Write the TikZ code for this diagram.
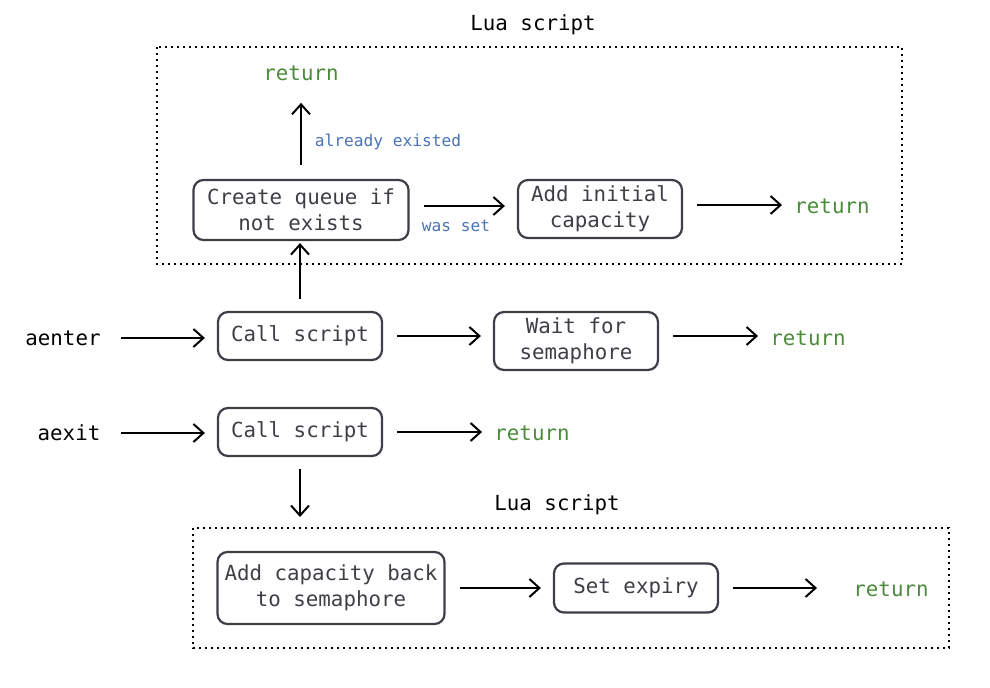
\documentclass[tikz,border=0pt]{standalone}
\usepackage{fontspec}
\setmainfont{DejaVu Sans Mono}
\usetikzlibrary{arrows.meta}

\definecolor{retgreen}{RGB}{75,139,59}
\definecolor{condblue}{RGB}{74,115,181}
\definecolor{boxgray}{RGB}{62,62,70}

\tikzset{
    box/.style={draw=boxgray, line width=1.1pt, rounded corners=5pt, align=center,
        text=boxgray, inner sep=2pt},
    word/.style={inner sep=0pt},
    ret/.style={word, text=retgreen},
    cond/.style={word, text=condblue, font=\fontsize{8.1}{10}\selectfont},
    flow/.style={->, line width=1pt, shorten <=7pt, shorten >=6pt},
    luabox/.style={dotted, line width=1pt}
}

\begin{document}
\begin{tikzpicture}[x=0.5pt, y=-0.5pt, >={Straight Barb[length=5pt,width=9pt]},
        font=\fontsize{10.4}{13}\selectfont]
    \useasboundingbox (0,0) rectangle (990,688);

    % upper Lua script
    \draw[luabox] (157,47) rectangle (902,264);
    \node[word] (lua1) at (533,25) {Lua script};
    \node[ret] (ret1) at (301,73) {return};
    \node[box, minimum width=107.5pt, minimum height=30pt] (cq) at (301,210) {Create queue if\\not exists};
    \node[box, minimum width=82pt, minimum height=29pt] (ai) at (600,209) {Add initial\\capacity};
    \node[ret] (ret2) at (832,206) {return};
    \node[cond] (lbl1) at (388,142) {already existed};
    \node[cond] (lbl2) at (456,226) {was set};

    % aenter
    \node[word] (aenter) at (63,338) {aenter};
    \node[box, minimum width=82pt, minimum height=24pt] (call1) at (300,336) {Call script};
    \node[box, minimum width=82pt, minimum height=29pt] (wait) at (576,341) {Wait for\\semaphore};
    \node[ret] (ret3) at (808,338) {return};

    % aexit
    \node[word] (aexit) at (69,433) {aexit};
    \node[box, minimum width=82pt, minimum height=24pt] (call2) at (300,432) {Call script};
    \node[ret] (ret4) at (532,433) {return};

    % lower Lua script
    \draw[luabox] (193,528) rectangle (949,648);
    \coordinate (lowtop) at (300,528);
    \node[word] (lua2) at (557,505) {Lua script};
    \node[box, minimum width=113.5pt, minimum height=36pt] (back) at (331,588) {Add capacity back\\to semaphore};
    \node[box, minimum width=82pt, minimum height=24.5pt] (exp) at (636,588) {Set expiry};
    \node[ret] (ret5) at (891,589) {return};

    % arrows
    \draw[flow, shorten >=11pt] (cq.north) -- (cq.north |- ret1.south);
    \draw[flow] ([yshift=2pt]cq.east) -- ([yshift=2pt]cq.east -| ai.west);
    \draw[flow] ([yshift=2pt]ai.east) -- ([yshift=2pt]ai.east -| ret2.west);
    \draw[flow, shorten <=6pt, shorten >=1pt] (call1.north) -- (call1.north |- cq.south);
    \draw[flow, shorten <=10pt] (aenter.east) -- (aenter.east -| call1.west);
    \draw[flow] (call1.east) -- (call1.east -| wait.west);
    \draw[flow] (call1.east -| wait.east) -- (call1.east -| ret3.west);
    \draw[flow, shorten <=10pt] (aexit.east) -- (aexit.east -| call2.west);
    \draw[flow] (call2.east) -- (call2.east -| ret4.west);
    \draw[flow, shorten <=6pt, shorten >=5.5pt] (call2.south) -- (lowtop);
    \draw[flow] (back.east) -- (back.east -| exp.west);
    \draw[flow, shorten >=18pt] (exp.east) -- (exp.east -| ret5.west);
\end{tikzpicture}
\end{document}
